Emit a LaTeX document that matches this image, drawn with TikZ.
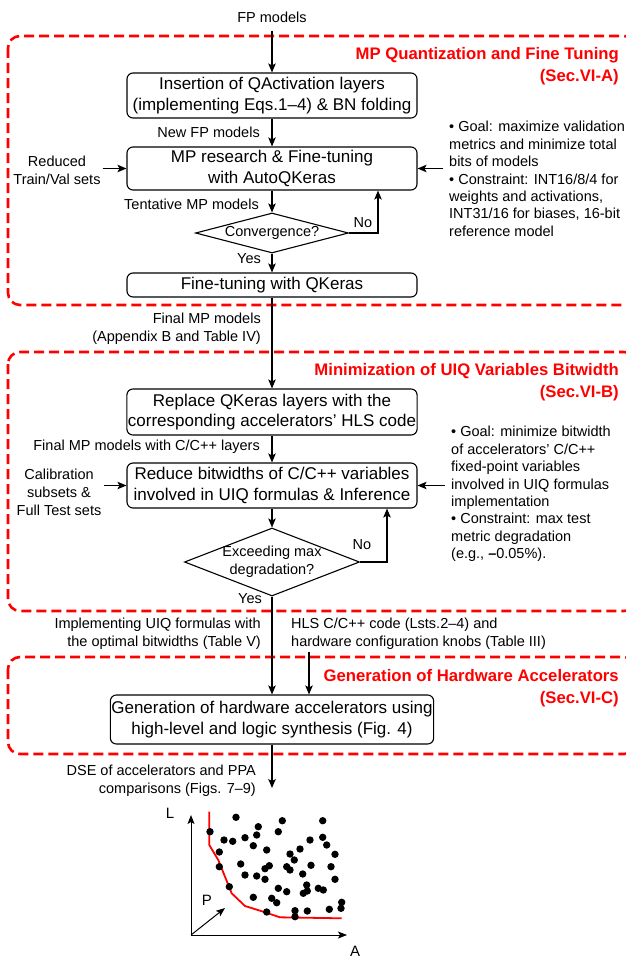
\documentclass[tikz,border=0pt]{standalone}
\usepackage{fontspec}
\setmainfont{Liberation Sans}
\usetikzlibrary{arrows.meta,positioning,shapes.geometric}
\definecolor{framered}{HTML}{FF0000}
\tikzset{stagebox/.style={draw, rounded corners=6pt, line width=1.1pt, inner sep=1pt,
  align=center, minimum width=290pt, font=\fontsize{17}{20.4}\selectfont},
  decision/.style={draw, diamond, line width=1.1pt, inner sep=0pt, align=center,
  font=\fontsize{14.5}{18}\selectfont},
  stagearrow/.style={-{Stealth[length=9pt,width=7.5pt,inset=2pt]}, line width=1.1pt},
  axisarrow/.style={-{Stealth[length=9pt,width=7pt,inset=2pt]}, line width=1pt},
  flowlabel/.style={inner sep=0pt, font=\fontsize{14.5}{18}\selectfont},
  sidenote/.style={inner sep=0pt, align=left, anchor=west, font=\fontsize{14.5}{17.4}\selectfont},
  groupframe/.style={draw=framered, line width=2.6pt, dash pattern=on 10pt off 5pt, rounded corners=12pt},
  grouptitle/.style={inner sep=0pt, anchor=east, align=right, text=framered,
  font=\bfseries\fontsize{16.7}{22}\selectfont},
  flow/.style={x=1pt, y=-1pt}}

\begin{document}
\begin{tikzpicture}[flow]
    \useasboundingbox (0,0) rectangle (626,958);
    \draw[groupframe] (8,36) rectangle (636,305);
    \draw[groupframe] (8,352) rectangle (636,611);
    \draw[groupframe] (8,657) rectangle (636,754);
    \node[grouptitle] (titlea) at (619,66) {MP Quantization and Fine Tuning\\(Sec.VI-A)};
    \node[grouptitle] (titleb) at (619,382.5) {Minimization of UIQ Variables Bitwidth\\(Sec.VI-B)};
    \node[grouptitle] (titlec) at (619,688.5) {Generation of Hardware Accelerators\\(Sec.VI-C)};

    \node[flowlabel] (fp) at (272,17) {FP models};
    \node[stagebox, minimum height=45pt] (insert) at (272,95.5) {Insertion of QActivation layers\\(implementing Eqs.1--4) \& BN folding};
    \node[stagebox, minimum height=43pt] (search) at (272,168.5) {MP research \& Fine-tuning\\with AutoQKeras};
    \node[decision, aspect=3.8, minimum width=153pt, minimum height=40pt] (converge) at (272,233) {Convergence?};
    \node[stagebox, minimum height=24pt] (finetune) at (272,285) {Fine-tuning with QKeras};
    \node[stagebox, minimum height=46pt] (replace) at (272,412) {Replace QKeras layers with the\\corresponding accelerators' HLS code};
    \node[stagebox, minimum height=45pt] (reduce) at (272,485.5) {Reduce bitwidths of C/C++ variables\\involved in UIQ formulas \& Inference};
    \node[decision, aspect=2.57, inner sep=-5pt, minimum width=175pt, minimum height=68pt] (exceed) at (272,562) {Exceeding max\\degradation?};
    \node[stagebox, minimum width=323pt, minimum height=49pt] (generate) at (272,719.5) {Generation of hardware accelerators using\\high-level and logic synthesis (Fig. 4)};

    \node[flowlabel, anchor=east] (newfp) at (260,132) {New FP models};
    \node[flowlabel, anchor=east] (tentative) at (259,204) {Tentative MP models};
    \node[flowlabel] (noa) at (363,223) {No};
    \node[flowlabel, anchor=east] (yesa) at (261,259) {Yes};
    \node[flowlabel, align=center] (reduced) at (57,170) {Reduced\\Train/Val sets};
    \node[sidenote] (goala) at (449,179) {• Goal: maximize validation\\metrics and minimize total\\bits of models\\• Constraint: INT16/8/4 for\\weights and activations,\\INT31/16 for biases, 16-bit\\reference model};
    \node[flowlabel, anchor=east, align=right] (finalmp) at (261,329) {Final MP models\\(Appendix B and Table IV)};
    \node[flowlabel, anchor=east] (withcpp) at (260,447) {Final MP models with C/C++ layers};
    \node[flowlabel, align=center] (calib) at (59,492.5) {Calibration\\subsets \&\\Full Test sets};
    \node[sidenote] (goalb) at (451,494) {• Goal: minimize bitwidth\\of accelerators' C/C++\\fixed-point variables\\involved in UIQ formulas\\implementation\\• Constraint: max test\\metric degradation\\(e.g., \textbf{--}0.05\%).};
    \node[flowlabel] (nob) at (362,545) {No};
    \node[flowlabel, anchor=east] (yesb) at (262,599) {Yes};
    \node[flowlabel, anchor=east, align=right] (optimal) at (261,633.5) {Implementing UIQ formulas with\\the optimal bitwidths (Table V)};
    \node[flowlabel, anchor=west, align=left] (hls) at (291,633.5) {HLS C/C++ code (Lsts.2--4) and\\hardware configuration knobs (Table III)};
    \node[flowlabel, anchor=east, align=right] (dse) at (256,781) {DSE of accelerators and PPA\\comparisons (Figs. 7--9)};
    \coordinate (hlsfoot) at (309,652);
    \coordinate (dseend) at (272,788);

    \draw[stagearrow, shorten <=8pt] (fp.south) -- (insert.north);
    \draw[stagearrow] (insert) -- (search);
    \draw[stagearrow, shorten <=2pt] (reduced.east |- search.west) -- (search.west);
    \draw[stagearrow, shorten <=6pt] (goala.west |- search.east) -- (search.east);
    \draw[stagearrow] (search) -- (converge);
    \draw[stagearrow] (converge.east) -| ([xshift=106pt]search.south);
    \draw[stagearrow] (converge) -- (finetune);
    \draw[stagearrow] (finetune) -- (replace);
    \draw[stagearrow] (replace) -- (reduce);
    \draw[stagearrow, shorten <=2pt] (calib.east |- reduce.west) -- (reduce.west);
    \draw[stagearrow, shorten <=6pt] (goalb.west |- reduce.east) -- (reduce.east);
    \draw[stagearrow] (reduce) -- (exceed);
    \draw[stagearrow] (exceed.east) -| ([xshift=115pt]reduce.south);
    \draw[stagearrow] (exceed) -- (generate);
    \draw[stagearrow] (hlsfoot) -- (hlsfoot |- generate.north);
    \draw[stagearrow] (generate) -- (dseend);

    \coordinate (origin) at (191,935);
    \coordinate (ltip) at (191,815);
    \coordinate (atip) at (347,935);
    \coordinate (ptip) at (225,908);
    \draw[axisarrow] (origin) -- (ltip);
    \draw[axisarrow] (origin) -- (atip);
    \draw[axisarrow] (origin) -- (ptip);
    \node[flowlabel, font=\fontsize{15}{18}\selectfont] (laxis) at (170,813) {L};
    \node[flowlabel, anchor=base, font=\fontsize{15}{18}\selectfont] (aaxis) at (355,956) {A};
    \node[flowlabel, font=\fontsize{15}{18}\selectfont] (paxis) at (207,900) {P};
    \draw[framered, line width=1.8pt] (209.3,811.7) -- (209.3,845) -- (218.3,860) -- (225,876.7) -- (231.7,893.3)
      -- (245,906) -- (263.3,911.7) -- (280,917.3) -- (341.7,918.3);
    \foreach \px/\py in {236/817.3, 210/831.7, 258.3/826.7, 282.3/820.7, 278.3/831.7, 322.7/820.7,
      224/840, 232.7/841.3, 245/837.7, 256.7/835, 253.3/845.7, 266.7/850, 219.3/852, 310/840,
      322.7/837.3, 326.7/845, 300/849, 335/854.3, 290/854, 294.3/860, 240.7/864, 219.3/866.7,
      269.3/865.7, 265/868.7, 286.7/866.7, 290/870, 311/865.3, 331/866.7, 245/875, 256.7/876,
      265/879.3, 302.7/874, 335/879.3, 229.3/886.7, 278.3/888.3, 286.7/891.7, 306.7/885,
      303.3/893.3, 307.3/891, 318.3/888.3, 323.3/890, 253.3/897.3, 271.7/898.3, 276.7/902.7,
      341.7/902.3, 341/908.3, 266.7/912, 295/910.7, 295/916.7, 307.3/911, 329.3/909.3}
      \fill (\px,\py) circle (3.7pt);
  \end{tikzpicture}
\end{document}
